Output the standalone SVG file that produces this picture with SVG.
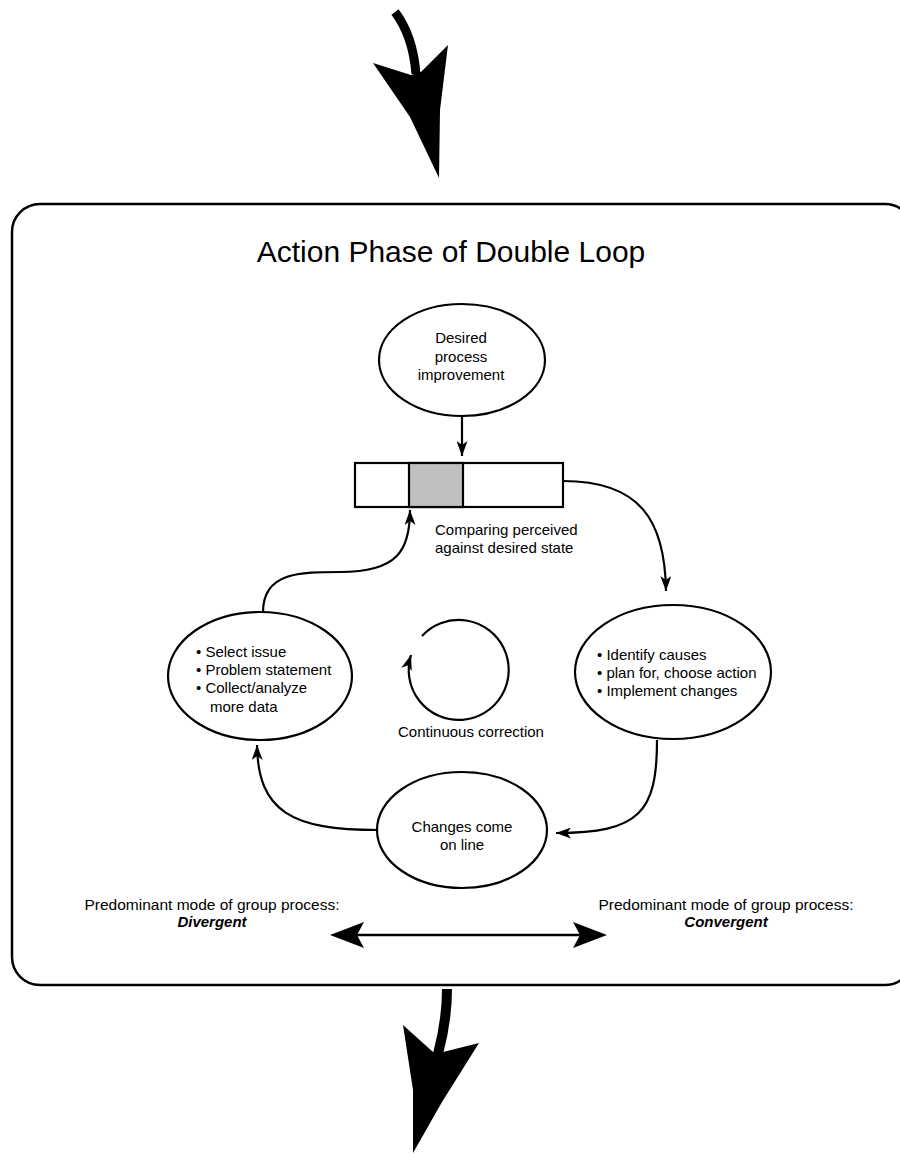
<svg xmlns="http://www.w3.org/2000/svg" width="900" height="1155" viewBox="0 0 900 1155">
<style>
text{font-family:"Liberation Sans",Arial,sans-serif;fill:#000}
.t{font-size:15px}
.c{text-anchor:middle}
.n{fill:#fff;stroke:#000;stroke-width:2.2}
.cn{fill:none;stroke:#000;stroke-width:2.2}
.big{fill:#000;stroke:none}
</style>
<defs>
<marker id="ah" viewBox="0 0 15 11" markerWidth="15" markerHeight="11" refX="15" refY="5.5" orient="auto" markerUnits="userSpaceOnUse">
<path d="M0,0 L15,5.5 L0,11 L4,5.5 z" fill="#000"/>
</marker>
</defs>
<g id="frame">
<rect x="12" y="204" width="901" height="781" rx="28" ry="28" fill="none" stroke="#000" stroke-width="2.5"/>
<text x="451" y="262" class="c" style="font-size:30px">Action Phase of Double Loop</text>
</g>
<g id="arrow-in">
<path class="cn" d="M395,12 Q413,36 416,74" style="stroke-width:9"/>
<path class="big" d="M373,63 L411,75 L421,72 L448,45 L440,110 L439,178 L410,117 Z"/>
</g>
<g id="arrow-out">
<path class="cn" d="M447,989 Q447,1020 438,1054" style="stroke-width:10"/>
<path class="big" d="M403,1025 L433,1052 L443,1052 L479,1043 L442,1102 L413,1153 L413,1090 Z"/>
</g>
<g id="desired">
<ellipse class="n" cx="462" cy="360" rx="83" ry="56"/>
<text class="t c" x="461" y="343">Desired</text>
<text class="t c" x="461" y="362">process</text>
<text class="t c" x="461" y="380">improvement</text>
</g>
<g id="bar">
<rect x="355" y="463" width="208" height="44" fill="#fff" stroke="#000" stroke-width="2.2"/>
<rect x="409" y="463" width="54" height="44" fill="#c0c0c0" stroke="#000" stroke-width="2.2"/>
<text class="t" x="435" y="535">Comparing perceived</text>
<text class="t" x="435" y="553">against desired state</text>
</g>
<g id="identify">
<ellipse class="n" cx="673" cy="672" rx="98" ry="67"/>
<text class="t" x="597" y="660">• Identify causes</text>
<text class="t" x="597" y="678">• plan for, choose action</text>
<text class="t" x="597" y="696">• Implement changes</text>
</g>
<g id="select">
<ellipse class="n" cx="260" cy="676" rx="92" ry="64"/>
<text class="t" x="196" y="657">• Select issue</text>
<text class="t" x="196" y="675">• Problem statement</text>
<text class="t" x="196" y="693">• Collect/analyze</text>
<text class="t" x="210" y="712">more data</text>
</g>
<g id="changes">
<ellipse class="n" cx="462" cy="830" rx="85" ry="58"/>
<text class="t c" x="462" y="832">Changes come</text>
<text class="t c" x="462" y="850">on line</text>
</g>
<g id="correction">
<text class="t c" x="471" y="737">Continuous correction</text>
</g>
<g id="modes">
<text class="c" x="212" y="910" style="font-size:15.5px">Predominant mode of group process:</text>
<text class="c" x="212" y="927" style="font-size:15px;font-weight:bold;font-style:italic">Divergent</text>
<text class="c" x="726" y="910" style="font-size:15.5px">Predominant mode of group process:</text>
<text class="c" x="726" y="927" style="font-size:15px;font-weight:bold;font-style:italic">Convergent</text>
</g>
<g id="connectors">
<path class="cn" d="M462,417 L462,456" marker-end="url(#ah)"/>
<path class="cn" d="M563,481 C640,481 665,520 666,591" marker-end="url(#ah)"/>
<path class="cn" d="M657,740 C657,812 640,833 556,833" marker-end="url(#ah)"/>
<path class="cn" d="M378,830 C292,830 258,812 257,745" marker-end="url(#ah)"/>
<path class="cn" d="M263,612 C263,572 300,572 340,572 C398,572 410,550 410,510" marker-end="url(#ah)"/>
<path class="cn" d="M422,636 A50,50 0 1 1 411,655" marker-end="url(#ah)"/>
<line x1="345" y1="935" x2="592" y2="935" stroke="#000" stroke-width="2.5"/>
<path class="big" d="M330,935 L364,922 L357,935 L364,948 Z"/>
<path class="big" d="M607,935 L573,922 L580,935 L573,948 Z"/>
</g>
</svg>
